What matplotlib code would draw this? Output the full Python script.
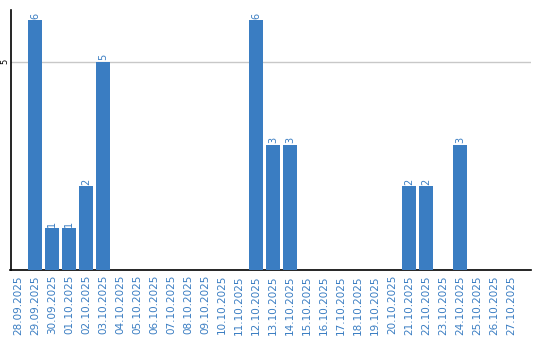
import matplotlib
matplotlib.use("Agg")
import matplotlib.pyplot as plt
import numpy as np

dates = ["28.09.2025", "29.09.2025", "30.09.2025", "01.10.2025", "02.10.2025",
         "03.10.2025", "04.10.2025", "05.10.2025", "06.10.2025", "07.10.2025",
         "08.10.2025", "09.10.2025", "10.10.2025", "11.10.2025", "12.10.2025",
         "13.10.2025", "14.10.2025", "15.10.2025", "16.10.2025", "17.10.2025",
         "18.10.2025", "19.10.2025", "20.10.2025", "21.10.2025", "22.10.2025",
         "23.10.2025", "24.10.2025", "25.10.2025", "26.10.2025", "27.10.2025"]
counts = [0, 6, 1, 1, 2, 5, 0, 0, 0, 0,
          0, 0, 0, 0, 6, 3, 3, 0, 0, 0,
          0, 0, 0, 2, 2, 0, 3, 0, 0, 0]

BAR_COLOR = "#3a7dc2"

fig = plt.figure(figsize=(5.4, 3.4), dpi=100)
# axes box in pixels: left 10.5, right 531, bottom 269.5, top 10
ax = fig.add_axes([10.5 / 540, 1 - 269.5 / 340, 520.5 / 540, 259.5 / 340])

x = np.arange(len(dates))
ax.bar(x, counts, width=0.82, color=BAR_COLOR, zorder=3)

for xi, c in zip(x, counts):
    if c > 0:
        ax.annotate(str(c), xy=(xi, c), xytext=(0, 1), textcoords="offset points",
                    ha="center", va="bottom", rotation=90, fontsize=7, color=BAR_COLOR)

ax.set_xlim(-0.45, len(dates) + 0.18)
ax.set_ylim(0, 6.24)
ax.set_yticks([5])
ax.set_yticklabels(["5"], rotation=90, va="center", fontsize=6)
ax.tick_params(axis="y", length=0, pad=0.5)
ax.set_xticks(x)
ax.set_xticklabels(dates, rotation=90, fontsize=7.5, color=BAR_COLOR)
ax.tick_params(axis="x", length=0, pad=4)
ax.grid(True, axis="y", color="#c8c8c8", linewidth=1, zorder=0)

for side in ["top", "right"]:
    ax.spines[side].set_visible(False)
ax.spines["left"].set_linewidth(1.2)
ax.spines["bottom"].set_linewidth(1.2)

fig.savefig("out.png", dpi=100)
